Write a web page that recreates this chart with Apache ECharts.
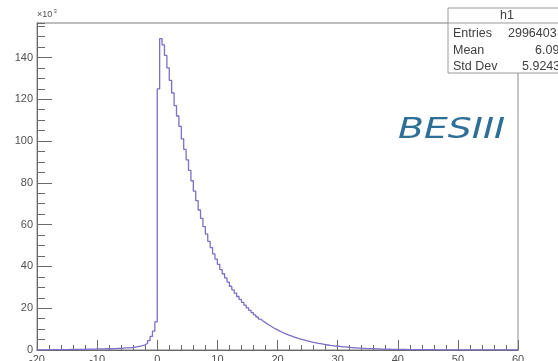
<!DOCTYPE html>
<html>
<head>
<meta charset="utf-8">
<script src="https://cdn.jsdelivr.net/npm/echarts@6/dist/echarts.min.js"></script>
<style>
  html, body { margin: 0; padding: 0; background: #fff; }
  #chart { width: 558px; height: 361px; }
</style>
</head>
<body>
<div id="chart"></div>
<script>
// Histogram h1: 200 bins of width 0.4 from -20 to 60, contents in units of 10^3
const BIN_MIN = -20;
const BIN_WIDTH = 0.4;
const X_MIN = -20;
const X_MAX = 60;
const Y_MAX = 156.5;

// bins with low edge -20 ... -0.4
const countsNeg = [
  0.1, 0.1, 0.1, 0.1, 0.1, 0.1, 0.2, 0.2, 0.2, 0.2,
  0.2, 0.2, 0.2, 0.3, 0.3, 0.3, 0.3, 0.3, 0.3, 0.3,
  0.4, 0.4, 0.4, 0.4, 0.5, 0.5, 0.5, 0.5, 0.6, 0.6,
  0.6, 0.7, 0.7, 0.8, 0.8, 0.9, 1.0, 1.0, 1.1, 1.2,
  1.4, 1.6, 1.8, 2.1, 2.5, 3.2, 4.5, 6.5, 9, 13.5
];

// bins with low edge 0 ... 39.6
const countsPeak = [
  125, 149,
  146, 141, 135, 129, 123, 117, 112, 107, 101, 96,
  91, 86, 81, 76, 71.5, 67, 63, 59, 55.5, 52,
  49, 46, 43.5, 41, 38.5, 36.5, 34.5, 32.5, 30.5, 28.8,
  27.2, 25.6, 24.2, 22.8, 21.5, 20.2, 19.0, 17.9, 16.8, 15.8,
  14.8, 13.9, 13.1, 12.3, 11.6, 10.9, 10.2, 9.6, 9.0, 8.5,
  8.0, 7.5, 7.0, 6.6, 6.2, 5.8, 5.4, 5.1, 4.8, 4.5,
  4.2, 3.9, 3.6, 3.4, 3.2, 3.0, 2.8, 2.6, 2.4, 2.2,
  2.1, 1.9, 1.8, 1.7, 1.55, 1.45, 1.35, 1.25, 1.15, 1.07,
  1.0, 0.93, 0.86, 0.8, 0.74, 0.69, 0.64, 0.6, 0.56, 0.52,
  0.48, 0.45, 0.42, 0.39, 0.36, 0.34, 0.32, 0.3
];

// bins with low edge 40 ... 59.6
const countsTail = [
  0.28, 0.26, 0.25, 0.23, 0.22, 0.2, 0.19, 0.18, 0.17, 0.16,
  0.15, 0.14, 0.13, 0.12, 0.12, 0.11, 0.1, 0.1, 0.09, 0.09,
  0.08, 0.08, 0.07, 0.07, 0.07, 0.06, 0.06, 0.06, 0.05, 0.05,
  0.05, 0.05, 0.04, 0.04, 0.04, 0.04, 0.04, 0.03, 0.03, 0.03,
  0.03, 0.03, 0.03, 0.03, 0.02, 0.02, 0.02, 0.02, 0.02, 0.02
];

const statsTitle = 'h1';
const statsNames = ['Entries', 'Mean', 'Std Dev'];
const statsValues = ['2996403', '6.093', '5.9243'];
const watermark = 'BESIII';

const counts = countsNeg.concat(countsPeak, countsTail);
// step line through the low edge of each bin, closed at the last upper edge
const histData = counts.map((v, i) => [BIN_MIN + i * BIN_WIDTH, v]);
histData.push([BIN_MIN + counts.length * BIN_WIDTH, counts[counts.length - 1]]);

const FONT = 'Liberation Sans, Arial, sans-serif';
const AXIS_GREY = '#6a6a6a';
const TEXT_GREY = '#505050';

const chart = echarts.init(document.getElementById('chart'), null, { renderer: 'canvas' });

const statsX = 448, statsY = 8, statsW = 130, statsH = 65;
const graphics = [
  { type: 'text', left: 37, top: 10, z: 100,
    style: { text: '×10', fill: TEXT_GREY, font: '9px ' + FONT } },
  { type: 'text', left: 53.5, top: 8, z: 100,
    style: { text: '3', fill: TEXT_GREY, font: '6px ' + FONT } },
  { type: 'rect', z: 100,
    shape: { x: statsX, y: statsY, width: statsW, height: statsH },
    style: { fill: '#fff', stroke: '#9a9a9a', lineWidth: 1 } },
  { type: 'line', z: 101,
    shape: { x1: statsX, y1: 23, x2: statsX + statsW, y2: 23 },
    style: { stroke: '#9a9a9a', lineWidth: 1 } },
  { type: 'text', z: 101, x: 507, y: 15.5,
    style: { text: statsTitle, fill: '#404040', font: '12.5px ' + FONT,
             textAlign: 'center', textVerticalAlign: 'middle' } }
];
const rowY = [34, 50.5, 66.5];
const valueX = [508, 535, 522];
statsNames.forEach((name, i) => {
  graphics.push({ type: 'text', z: 101, x: 453, y: rowY[i],
    style: { text: name, fill: '#404040', font: '12.5px ' + FONT,
             textAlign: 'left', textVerticalAlign: 'middle' } });
  graphics.push({ type: 'text', z: 101, x: valueX[i], y: rowY[i],
    style: { text: statsValues[i], fill: '#404040', font: '12.5px ' + FONT,
             textAlign: 'left', textVerticalAlign: 'middle' } });
});
graphics.push({ type: 'text', z: 101, x: 398, y: 131, scaleX: 1.35,
  style: { text: watermark, fill: '#2e6f98', font: 'oblique 28px "DejaVu Sans", sans-serif',
           textAlign: 'left', textVerticalAlign: 'middle' } });

chart.setOption({
  animation: false,
  backgroundColor: '#ffffff',
  grid: {
    left: 37, right: 40, top: 23, bottom: 11,
    outerBoundsMode: 'none', containLabel: false,
    show: true, borderColor: '#a8a8a8', borderWidth: 1.3, backgroundColor: 'transparent'
  },
  xAxis: {
    type: 'value', min: X_MIN, max: X_MAX, interval: 10,
    axisLine: { show: true, onZero: false, lineStyle: { color: AXIS_GREY, width: 1 } },
    axisTick: { show: true, inside: true, length: 10, lineStyle: { color: AXIS_GREY } },
    minorTick: { show: true, splitNumber: 5, length: 5, lineStyle: { color: AXIS_GREY } },
    axisLabel: { color: TEXT_GREY, fontSize: 11, fontFamily: FONT, margin: 4,
                 showMinLabel: true, showMaxLabel: true },
    splitLine: { show: false }
  },
  yAxis: [
    {
      type: 'value', min: 0, max: Y_MAX, interval: 20, position: 'left',
      axisLine: { show: true, onZero: false, lineStyle: { color: AXIS_GREY, width: 1 } },
      axisTick: { show: true, inside: true, length: 15, lineStyle: { color: AXIS_GREY } },
      axisLabel: { color: TEXT_GREY, fontSize: 11, fontFamily: FONT, margin: 4,
                   showMaxLabel: false },
      splitLine: { show: false }
    },
    {
      type: 'value', min: 0, max: Y_MAX, interval: 5, position: 'left', offset: 0,
      axisLine: { show: false, onZero: false },
      axisTick: { show: true, inside: true, length: 8, lineStyle: { color: AXIS_GREY } },
      axisLabel: { show: false },
      splitLine: { show: false }
    }
  ],
  series: [{
    type: 'line',
    xAxisIndex: 0, yAxisIndex: 0,
    step: 'end',
    data: histData,
    showSymbol: false,
    lineStyle: { color: '#7b6fc8', width: 1.3 },
    z: 5
  }],
  graphic: graphics
});
</script>
</body>
</html>
